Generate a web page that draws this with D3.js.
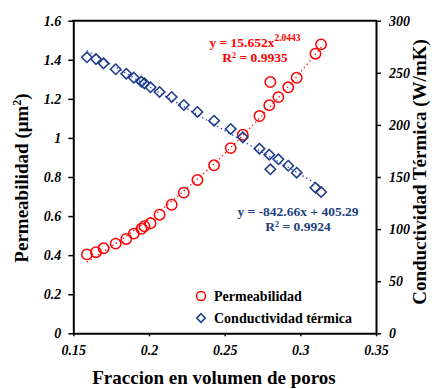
<!DOCTYPE html>
<html>
<head>
<meta charset="utf-8">
<script src="https://cdn.jsdelivr.net/npm/d3@7/dist/d3.min.js"></script>
<style>
  body { margin: 0; background: #fff; }
</style>
</head>
<body>
<div id="chart"></div>
<script>
// pore volume fraction, shared by both series
var fraccion = [0.159, 0.165, 0.170, 0.178, 0.185, 0.190, 0.195, 0.197, 0.201, 0.207, 0.215, 0.223,
                0.232, 0.243, 0.254, 0.262, 0.273, 0.2795, 0.2802, 0.2855, 0.292, 0.2976, 0.310, 0.3137];
var permeabilidad = [0.404, 0.415, 0.435, 0.459, 0.483, 0.510, 0.535, 0.548, 0.563, 0.607, 0.658, 0.720,
                     0.785, 0.860, 0.948, 1.016, 1.112, 1.167, 1.286, 1.209, 1.259, 1.308, 1.431, 1.479];
var conductividad = [264.9, 263.2, 259.1, 253.4, 249.1, 245.3, 241.5, 239.9, 236.1, 231.6, 226.8, 219.1,
                     212.4, 204.0, 196.1, 188.1, 177.2, 171.4, 157.4, 167.0, 160.8, 154.1, 139.7, 135.6];

// trendlines as given by the equations on the chart
var ajustePotencia = [15.652, 2.0443];
var ajusteLineal = [-842.66, 405.29];
var rangoAjuste = [0.159, 0.3155];

var xTicks = [0.15, 0.2, 0.25, 0.3, 0.35];
var xTickLabels = ['0.15', '0.2', '0.25', '0.3', '0.35'];
var yTicks = [0, 0.2, 0.4, 0.6, 0.8, 1, 1.2, 1.4, 1.6];
var yTickLabels = ['0', '0.2', '0.4', '0.6', '0.8', '1', '1.2', '1.4', '1.6'];
var y2Ticks = [0, 50, 100, 150, 200, 250, 300];
var y2TickLabels = ['0', '50', '100', '150', '200', '250', '300'];
var series = ['Permeabilidad', 'Conductividad térmica'];

(function() {
  'use strict';

  var width = 432, height = 389;
  var left = 73.3, right = 376, top = 20.7, bottom = 333.3;
  var red = '#ff0000', navy = '#1f3c88', navyText = '#203f7f', blue = '#1a2fe0';
  var serif = '"Liberation Serif", Tinos, "Times New Roman", "DejaVu Serif", serif';

  var svg = d3.select('#chart').append('svg')
      .attr('width', width).attr('height', height)
      .attr('font-family', serif)
      .attr('font-weight', 'bold');

  var x = d3.scaleLinear().domain([0.15, 0.35]).range([left, right]);
  var y = d3.scaleLinear().domain([0, 1.6]).range([bottom, top]);
  var y2 = d3.scaleLinear().domain([0, 300]).range([bottom, top]);

  function diamond(s) {
    return 'M0,' + (-s) + 'L' + s + ',0L0,' + s + 'L' + (-s) + ',0Z';
  }

  function styleAxis(g) {
    g.attr('font-family', serif).attr('font-size', 14);
    g.select('.domain').attr('stroke', '#000').attr('stroke-width', 2);
    g.selectAll('.tick line').attr('stroke', '#000').attr('stroke-width', 1.5);
    g.selectAll('.tick text')
        .attr('fill', '#000')
        .attr('font-style', 'italic')
        .attr('font-weight', 'bold');
  }

  // axes
  var gx = svg.append('g').attr('transform', 'translate(0,' + bottom + ')')
      .call(d3.axisBottom(x).tickValues(xTicks)
        .tickFormat(function(d, i) { return xTickLabels[i]; })
        .tickSize(3).tickSizeOuter(0).tickPadding(9));
  styleAxis(gx);

  var gy = svg.append('g').attr('transform', 'translate(' + left + ',0)')
      .call(d3.axisLeft(y).tickValues(yTicks)
        .tickFormat(function(d, i) { return yTickLabels[i]; })
        .tickSize(5).tickSizeOuter(0).tickPadding(7));
  styleAxis(gy);

  var gy2 = svg.append('g').attr('transform', 'translate(' + right + ',0)')
      .call(d3.axisRight(y2).tickValues(y2Ticks)
        .tickFormat(function(d, i) { return y2TickLabels[i]; })
        .tickSize(5).tickSizeOuter(0).tickPadding(8));
  styleAxis(gy2);

  // top border
  svg.append('line')
      .attr('x1', left - 1).attr('x2', right + 1)
      .attr('y1', top).attr('y2', top)
      .attr('stroke', '#000').attr('stroke-width', 2);

  // trendlines
  var xs = d3.range(rangoAjuste[0], rangoAjuste[1] + 0.0001, 0.001);
  var line = d3.line();

  svg.append('path')
      .attr('d', line(xs.map(function(v) {
        return [x(v), y(ajustePotencia[0] * Math.pow(v, ajustePotencia[1]))];
      })))
      .attr('fill', 'none').attr('stroke', red)
      .attr('stroke-width', 1.3).attr('stroke-dasharray', '1.3,3');

  svg.append('path')
      .attr('d', line(xs.map(function(v) {
        return [x(v), y2(ajusteLineal[0] * v + ajusteLineal[1])];
      })))
      .attr('fill', 'none').attr('stroke', blue)
      .attr('stroke-width', 1.3).attr('stroke-dasharray', '1.3,3');

  // points
  svg.append('g').selectAll('circle')
      .data(fraccion)
      .enter()
      .append('circle')
      .attr('cx', function(d) { return x(d); })
      .attr('cy', function(d, i) { return y(permeabilidad[i]); })
      .attr('r', 5.2)
      .attr('fill', 'none')
      .attr('stroke', red)
      .attr('stroke-width', 1.5);

  svg.append('g').selectAll('path')
      .data(fraccion)
      .enter()
      .append('path')
      .attr('transform', function(d, i) {
        return 'translate(' + x(d) + ',' + y2(conductividad[i]) + ')';
      })
      .attr('d', diamond(5.2))
      .attr('fill', 'none')
      .attr('stroke', navy)
      .attr('stroke-width', 1.6);

  // equations
  var eq1 = svg.append('text').attr('x', 255).attr('y', 46.5)
      .attr('text-anchor', 'middle').attr('fill', red).attr('font-size', 13.5);
  eq1.append('tspan').text('y = ' + ajustePotencia[0] + 'x');
  eq1.append('tspan').attr('dy', -6).attr('font-size', 9.5).text(ajustePotencia[1]);
  svg.append('text').attr('x', 255).attr('y', 61.5)
      .attr('text-anchor', 'middle').attr('fill', red).attr('font-size', 13.5)
      .text('R² = 0.9935');

  svg.append('text').attr('x', 298).attr('y', 215.5)
      .attr('text-anchor', 'middle').attr('fill', navyText).attr('font-size', 13.5)
      .text('y = ' + ajusteLineal[0] + 'x + ' + ajusteLineal[1]);
  svg.append('text').attr('x', 298).attr('y', 231)
      .attr('text-anchor', 'middle').attr('fill', navyText).attr('font-size', 13.5)
      .text('R² = 0.9924');

  // legend
  var legend = svg.append('g');
  legend.append('circle').attr('cx', 201).attr('cy', 296).attr('r', 4.5)
      .attr('fill', 'none').attr('stroke', red).attr('stroke-width', 1.5);
  legend.append('path').attr('transform', 'translate(201,318)').attr('d', diamond(4.3))
      .attr('fill', 'none').attr('stroke', navy).attr('stroke-width', 1.6);
  legend.selectAll('text')
      .data(series)
      .enter()
      .append('text')
      .attr('x', 214)
      .attr('y', function(d, i) { return 300.5 + i * 22; })
      .attr('fill', '#000')
      .attr('font-size', 14)
      .text(function(d) { return d; });

  // axis titles
  svg.append('text')
      .attr('x', 214).attr('y', 384)
      .attr('text-anchor', 'middle').attr('font-size', 19)
      .text('Fraccion en volumen de poros');

  var t1 = svg.append('text')
      .attr('transform', 'translate(28,' + 178 + ') rotate(-90)')
      .attr('text-anchor', 'middle').attr('font-size', 19);
  t1.append('tspan').text('Permeabilidad (μm');
  t1.append('tspan').attr('dy', -7).attr('font-size', 12).text('2');
  t1.append('tspan').attr('dy', 7).text(')');

  svg.append('text')
      .attr('transform', 'translate(426,' + 172 + ') rotate(-90)')
      .attr('text-anchor', 'middle').attr('font-size', 19)
      .text('Conductividad Térmica (W/mK)');
}).call();
</script>
</body>
</html>
